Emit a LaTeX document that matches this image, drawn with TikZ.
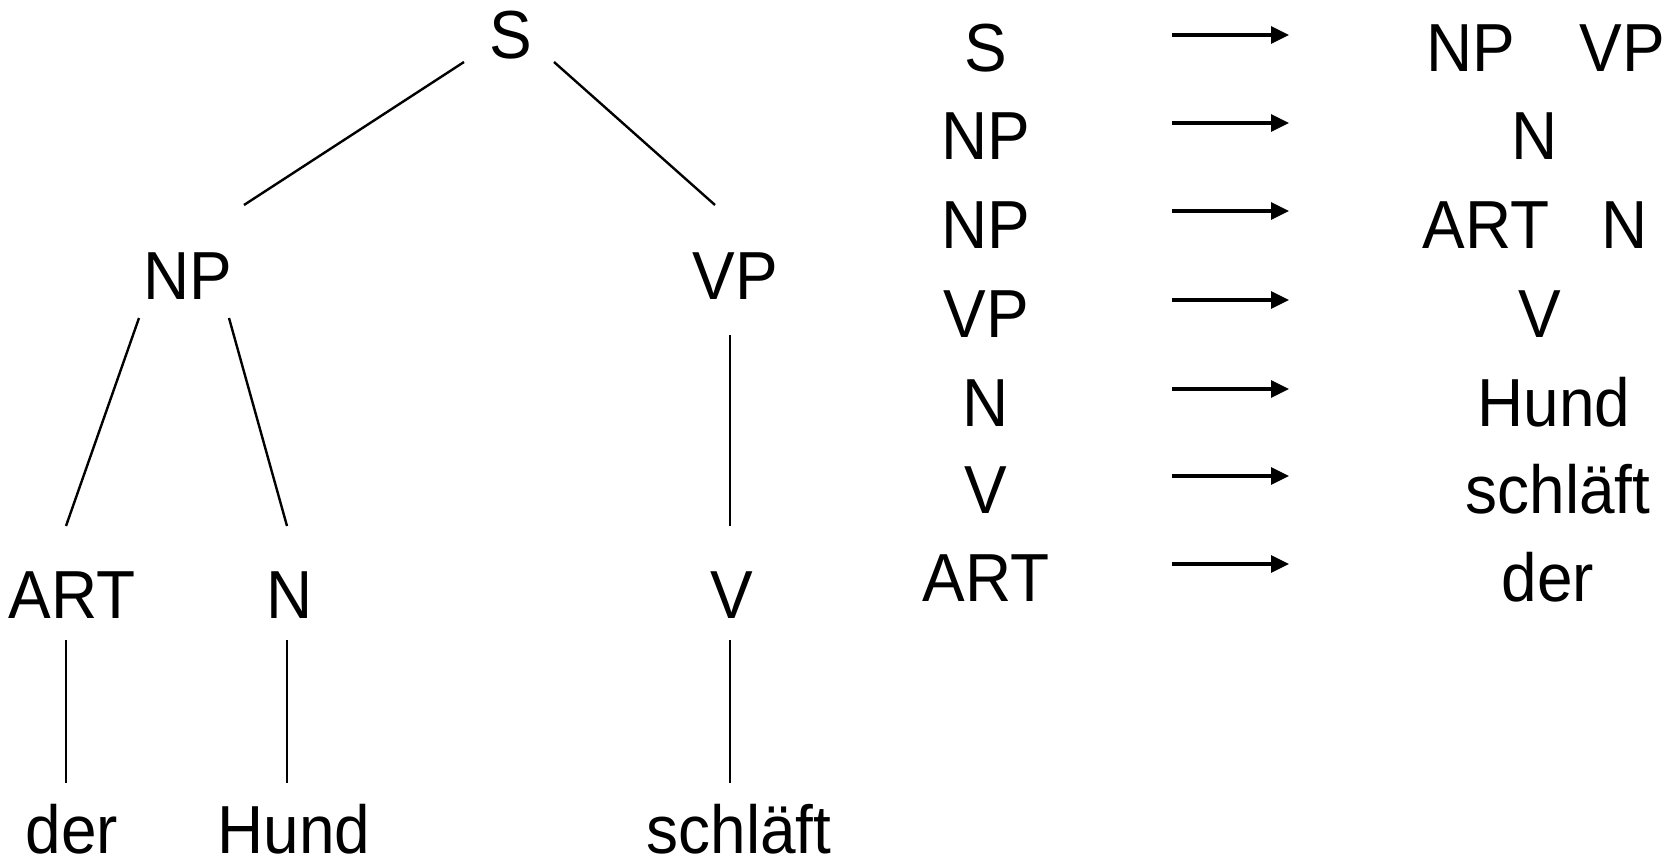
\documentclass[tikz,border=0pt]{standalone}
\usepackage{fontspec}
\setmainfont{Liberation Sans}[FakeStretch=0.94]
\usetikzlibrary{calc,arrows.meta}
\begin{document}
\begin{tikzpicture}[x=1pt,y=-1pt,
  lbl/.style={anchor=base,inner sep=0pt,font=\fontsize{68}{80}\selectfont},
  edge/.style={line width=2.4pt},
  rule/.style={line width=3.2pt,-{Triangle[length=18pt,width=17pt]}}]
\useasboundingbox (0,0) rectangle (1677,861);
% tree
\node[lbl] (S)   at (511,59)  {S};
\node[lbl] (NP)  at (188,299) {NP};
\node[lbl] (VP)  at (735,299) {VP};
\node[lbl] (ART) at (72,618)  {ART};
\node[lbl] (N)   at (290,618) {N};
\node[lbl] (V)   at (732,618) {V};
\node[lbl] (der)  at (72,853)  {der};
\node[lbl] (Hund) at (294,853) {Hund};
\node[lbl] (schl) at (739,853) {schläft};
\draw[edge] ($(S.base)+(-47,3)$) -- ($(NP.base)+(56,-94)$);
\draw[edge] ($(S.base)+(43,3)$) -- ($(VP.base)+(-20,-94)$);
\draw[edge] ($(NP.base)+(-49,19)$) -- ($(ART.base)+(-6,-92)$);
\draw[edge] ($(NP.base)+(41,19)$) -- ($(N.base)+(-3,-92)$);
\draw[edge] ($(VP.base)+(-5,36)$) -- ($(V.base)+(-2,-92)$);
\draw[edge] ($(ART.base)+(-6,22)$) -- ($(der.base)+(-6,-70)$);
\draw[edge] ($(N.base)+(-3,22)$) -- ($(Hund.base)+(-7,-70)$);
\draw[edge] ($(V.base)+(-2,22)$) -- ($(schl.base)+(-9,-70)$);
% rules
\foreach \i/\l/\y in {1/S/72,2/NP/160,3/NP/248,4/VP/337,5/N/426,6/V/513,7/ART/601}{
  \node[lbl] (l\i) at (986,\y) {\l};
  \coordinate (a\i) at (1172,\y-37);
  \coordinate (b\i) at (1289,\y-37);
  \draw[rule] (a\i) -- (b\i);
}
\node[lbl] (r1a) at (1471,72) {NP};
\node[lbl] (r1b) at (1622,72) {VP};
\node[lbl] (r2)  at (1535,160) {N};
\node[lbl] (r3a) at (1486,248) {ART};
\node[lbl] (r3b) at (1625,248) {N};
\node[lbl] (r4)  at (1540,337) {V};
\node[lbl] (r5)  at (1554,426) {Hund};
\node[lbl] (r6)  at (1558,513) {schläft};
\node[lbl] (r7)  at (1548,601) {der};
\end{tikzpicture}
\end{document}
